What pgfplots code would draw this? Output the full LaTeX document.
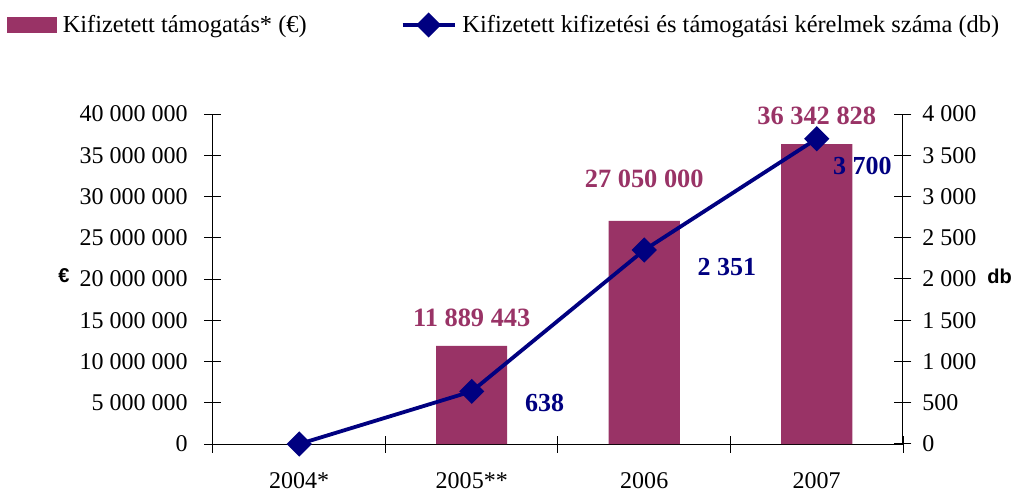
\documentclass[border=0pt]{standalone}
\usepackage{fontspec}
\setmainfont{Liberation Serif}
\setsansfont{Liberation Sans}
\usepackage{pgfplots}
\usepackage{pgfplotstable}
\pgfplotsset{compat=1.18}
\definecolor{barcol}{RGB}{153,51,102}
\definecolor{linecol}{RGB}{0,0,128}

% bars: Kifizetett tamogatas (EUR)
\pgfplotstableread{
x y lab
1 11889443 11~889~443
2 27050000 27~050~000
3 36342828 36~342~828
}\bars
\pgfplotstableread{
x y lab
1 11889443 11~889~443
3 36342828 36~342~828
}\barsA
\pgfplotstableread{
x y lab
2 27050000 27~050~000
}\barsB

% line: Kifizetett kerelmek szama (db)
\pgfplotstableread{
x y
0 0
1 638
2 2351
3 3700
}\linedata
\pgfplotstableread{
x y lab
1 638 638
}\lineA
\pgfplotstableread{
x y lab
2 2351 2~351
}\lineB
\pgfplotstableread{
x y lab
3 3700 3~700
}\lineC

\pgfplotsset{
  base/.style={
    width=345pt, height=165pt, scale only axis,
    xmin=-0.5, xmax=3.5, clip=false,
    axis line style={draw=none},
    every tick/.style={black, line width=0.5pt},
    tick align=center,
    major tick length=8.5pt, minor tick length=8.5pt,
    scaled y ticks=false,
    /pgf/number format/fixed,
    /pgf/number format/1000 sep={\ },
    /pgf/number format/assume math mode=true,
    tick label style={font=\fontsize{12}{14}\selectfont},
  },
  axline/.style={black, line width=0.5pt, mark=none, forget plot},
  barlab/.style={draw=none, mark=none, forget plot,
    point meta=explicit symbolic, nodes near coords,
    every node near coord/.append style={anchor=south, inner sep=0pt,
      font=\bfseries\fontsize{13.2}{15}\selectfont, text=barcol}},
  linelab/.style={draw=none, mark=none, forget plot,
    point meta=explicit symbolic, nodes near coords,
    every node near coord/.append style={anchor=west, inner sep=0pt,
      font=\bfseries\fontsize{13}{15}\selectfont, text=linecol}},
  linelegend/.style={legend image code/.code={\draw[mark repeat=2, mark phase=2, ##1] plot coordinates {(0pt,0pt) (13pt,0pt) (26pt,0pt)};}},
  barlegend/.style={legend image code/.code={\fill[barcol] (0pt,-3.75pt) rectangle (24.5pt,3.75pt);}},
}

\begin{document}
\begin{tikzpicture}
\begin{axis}[base, name=ax,
  xtick pos=bottom, ytick pos=left,
  ymin=0, ymax=40000000,
  ytick={0,5000000,10000000,15000000,20000000,25000000,30000000,35000000,40000000},
  xtick={0,1,2,3}, xticklabels={2004*,2005**,2006,2007},
  major x tick style={draw=none},
  minor xtick={-0.5,0.5,1.5,2.5,3.5},
  xticklabel style={inner sep=0pt, anchor=north, yshift=-9.75pt},
  yticklabel style={inner sep=0pt, anchor=east, xshift=-8.25pt},
  ylabel={\sffamily\bfseries €},
  every axis y label/.style={at={(axis description cs:0,0.5)}, anchor=center, xshift=-74.5pt, yshift=1.5pt, inner sep=0pt, font=\fontsize{10}{12}\selectfont},
]
\addplot[axline] coordinates {(-0.5,0) (3.5,0)};
\addplot[axline] coordinates {(-0.5,0) (-0.5,40000000)};
\addplot[ybar, bar width=35.5pt, fill=barcol, draw=none] table[x=x, y=y]{\bars};
\addplot[barlab, every node near coord/.append style={yshift=9.5pt}] table[x=x, y=y, meta=lab]{\barsA};
\addplot[barlab, every node near coord/.append style={yshift=16.5pt}] table[x=x, y=y, meta=lab]{\barsB};
\end{axis}

\begin{axis}[base,
  hide x axis,
  ytick pos=right, yticklabel pos=right,
  ymin=0, ymax=4000,
  ytick={0,500,1000,1500,2000,2500,3000,3500,4000},
  yticklabel style={inner sep=0pt, anchor=west, xshift=5.25pt},
  ylabel={\sffamily\bfseries db},
  every axis y label/.style={at={(axis description cs:1,0.5)}, anchor=center, xshift=48.25pt, yshift=1.5pt, inner sep=0pt, font=\fontsize{10}{12}\selectfont},
  legend columns=2,
  legend style={at={(axis description cs:0,1)}, anchor=west, xshift=-103pt, yshift=44.5pt,
    draw=none, fill=none, inner sep=0pt, outer sep=0pt,
    font=\fontsize{12.2}{14}\selectfont, nodes={inner sep=0pt},
    /tikz/every odd column/.append style={column sep=3pt},
    /tikz/every even column/.append style={column sep=47pt}},
]
\addplot[axline] coordinates {(3.5,0) (3.5,4000)};
\addlegendimage{barlegend}
\addlegendentry{Kifizetett támogatás* (€)}
\addplot[linecol, line width=1.9pt, mark=square*, mark size=3.5pt, mark options={rotate=45, solid}, linelegend]
  table[x=x, y=y]{\linedata};
\addlegendentry{Kifizetett kifizetési és támogatási kérelmek száma (db)}
\addplot[linelab, every node near coord/.append style={xshift=26.5pt, yshift=-5.75pt}] table[x=x, y=y, meta=lab]{\lineA};
\addplot[linelab, every node near coord/.append style={xshift=26.5pt, yshift=-8.5pt}] table[x=x, y=y, meta=lab]{\lineB};
\addplot[linelab, every node near coord/.append style={xshift=8pt, yshift=-13.5pt}] table[x=x, y=y, meta=lab]{\lineC};
\end{axis}
\path (ax.south west) ++(-106.5pt,-24pt) rectangle ++(508pt,246pt);
\end{tikzpicture}
\end{document}
